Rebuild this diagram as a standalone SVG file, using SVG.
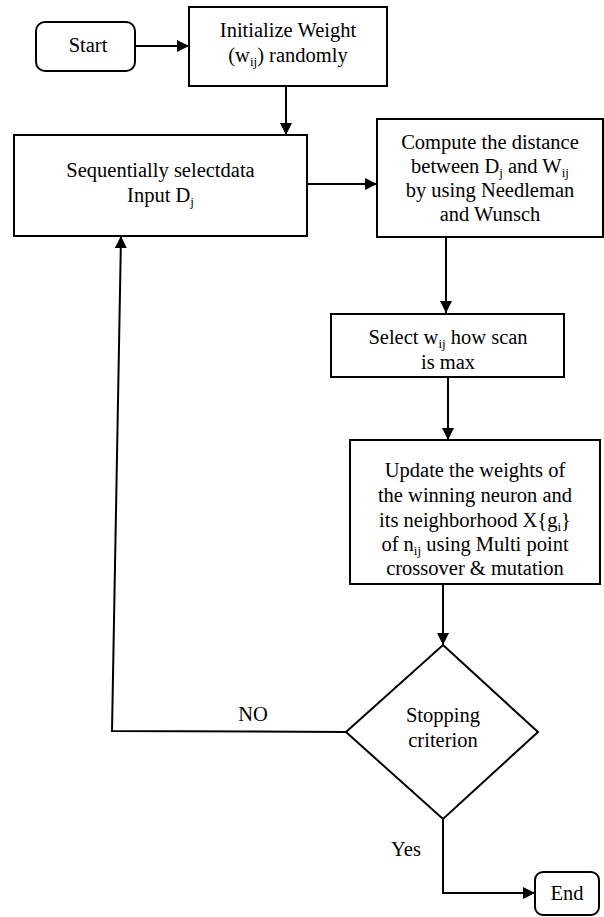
<svg xmlns="http://www.w3.org/2000/svg" width="604" height="917" viewBox="0 0 604 917">
<style>
.box{fill:#fff;stroke:#000;stroke-width:2}
.t{font-family:'Liberation Serif','Times New Roman',Times,'DejaVu Serif',serif;font-size:20.5px;fill:#000;text-anchor:middle}
.sub{font-size:13px}
.c{fill:none;stroke:#000;stroke-width:2}
</style>
<defs>
<marker id="ah" markerUnits="userSpaceOnUse" markerWidth="13" markerHeight="13" refX="12" refY="6" orient="auto">
<path d="M0,0 L12,6 L0,12 z" fill="#000"/>
</marker>
</defs>
<rect width="604" height="917" fill="#fff"/>
<g id="connectors">
<line class="c" x1="136" y1="46" x2="189" y2="46" marker-end="url(#ah)"/>
<line class="c" x1="286" y1="86" x2="286" y2="135" marker-end="url(#ah)"/>
<line class="c" x1="303" y1="184" x2="377" y2="184" marker-end="url(#ah)"/>
<line class="c" x1="446" y1="237" x2="446" y2="313" marker-end="url(#ah)"/>
<line class="c" x1="448" y1="377" x2="448" y2="440" marker-end="url(#ah)"/>
<line class="c" x1="443" y1="584" x2="443" y2="645" marker-end="url(#ah)"/>
<polyline class="c" points="346,732 112,731 121,236" marker-end="url(#ah)"/>
<polyline class="c" points="443,819 443,893 535,893" marker-end="url(#ah)"/>
<text class="t" x="253" y="721" font-family="Liberation Serif, serif">NO</text>
<text class="t" x="406" y="856" font-family="Liberation Serif, serif">Yes</text>
</g>
<g id="start">
<rect class="box" x="36" y="22" width="99" height="49" rx="9"/>
<text class="t" x="88" y="52">Start</text>
</g>
<g id="init">
<rect class="box" x="189" y="7" width="198" height="79"/>
<text class="t" x="288" y="37">Initialize Weight</text>
<text class="t" x="288" y="62">(w<tspan class="sub" dy="4">ij</tspan><tspan dy="-4">) randomly</tspan></text>
</g>
<g id="select-data">
<rect class="box" x="14" y="135" width="293" height="101"/>
<text class="t" x="160.5" y="177">Sequentially selectdata</text>
<text class="t" x="160.5" y="202">Input D<tspan class="sub" dy="4">j</tspan></text>
</g>
<g id="compute">
<rect class="box" x="377" y="119" width="226" height="118"/>
<text class="t" x="490" y="149">Compute the distance</text>
<text class="t" x="490" y="173">between D<tspan class="sub" dy="4">j</tspan><tspan dy="-4"> and W</tspan><tspan class="sub" dy="4">ij</tspan></text>
<text class="t" x="490" y="197">by using Needleman</text>
<text class="t" x="490" y="221">and Wunsch</text>
</g>
<g id="select-max">
<rect class="box" x="331" y="314" width="233" height="63"/>
<text class="t" x="448" y="344">Select w<tspan class="sub" dy="4">ij</tspan><tspan dy="-4"> how scan</tspan></text>
<text class="t" x="448" y="369">is max</text>
</g>
<g id="update">
<rect class="box" x="350" y="440" width="250" height="144"/>
<text class="t" x="475" y="477">Update the weights of</text>
<text class="t" x="475" y="502">the winning neuron and</text>
<text class="t" x="475" y="527">its neighborhood X{g<tspan class="sub" dy="4">i</tspan><tspan dy="-4">}</tspan></text>
<text class="t" x="475" y="551">of n<tspan class="sub" dy="4">ij</tspan><tspan dy="-4"> using Multi point</tspan></text>
<text class="t" x="475" y="575">crossover &amp; mutation</text>
</g>
<g id="stop">
<polygon class="box" points="443,645 538,732 443,819 346,732"/>
<text class="t" x="443" y="722">Stopping</text>
<text class="t" x="443" y="747">criterion</text>
</g>
<g id="end">
<rect class="box" x="535" y="872" width="64" height="43" rx="8"/>
<text class="t" x="567" y="900">End</text>
</g>
</svg>
